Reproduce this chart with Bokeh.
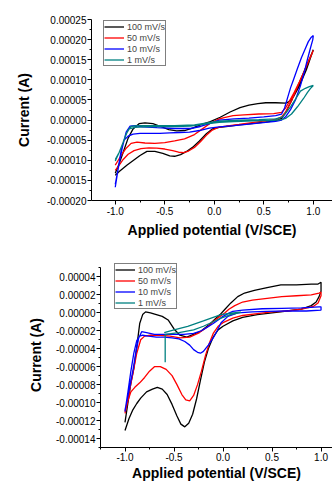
from bokeh.plotting import figure
from bokeh.models import FixedTicker, PrintfTickFormatter, Range1d
from bokeh.embed import file_html
from bokeh.resources import INLINE

rates = ["100 mV/s", "50 mV/s", "10 mV/s", "1 mV/s"]
colors = ["#000000", "#ff0000", "#0000ff", "#008080"]

x_title = "Applied potential (V/SCE)"
y_title = "Current (A)"

# ---------- ticks ----------
x_ticks = [-1.0, -0.5, 0.0, 0.5, 1.0]
x_minor = [-1.25, -0.75, -0.25, 0.25, 0.75]
top_y_ticks = [-0.00020, -0.00015, -0.00010, -0.00005, 0.0, 0.00005, 0.00010, 0.00015, 0.00020, 0.00025]
top_y_minor = [-0.000175, -0.000125, -0.000075, -0.000025, 0.000025, 0.000075, 0.000125, 0.000175, 0.000225]
bot_y_ticks = [-0.00014, -0.00012, -0.00010, -0.00008, -0.00006, -0.00004, -0.00002, 0.0, 0.00002, 0.00004]
bot_y_minor = [-0.00015, -0.00013, -0.00011, -0.00009, -0.00007, -0.00005, -0.00003, -0.00001, 0.00001, 0.00003, 0.00005]

# ---------- top panel data ----------
t100_fwd_v = [-1.00, -0.96, -0.92, -0.88, -0.815, -0.75, -0.68, -0.60, -0.52, -0.45, -0.40, -0.34, -0.28, -0.22, -0.15, -0.08, -0.02, 0.05, 0.12, 0.25, 0.40, 0.55, 0.63, 0.68, 0.72, 0.78, 0.85, 0.92, 0.97, 1.00]
t100_fwd_i = [-0.000137, -0.000128, -0.000120, -0.000112, -0.000100, -0.000088, -0.000078, -0.000078, -0.000083, -0.000089, -0.000090, -0.000086, -0.000078, -0.000068, -0.000052, -0.000034, -0.000022, -0.000018, -0.000016, -0.000012, -0.000008, -0.000004, -0.000001, 0.000004, 0.000018, 0.000048, 0.000088, 0.000128, 0.000157, 0.000175]
t100_rev_v = [1.00, 0.93, 0.86, 0.80, 0.75, 0.72, 0.62, 0.52, 0.44, 0.35, 0.26, 0.16, 0.06, -0.04, -0.14, -0.22, -0.30, -0.38, -0.46, -0.54, -0.62, -0.70, -0.76, -0.82, -0.87, -0.92, -0.96, -1.00]
t100_rev_i = [0.000175, 0.000125, 0.000085, 0.000058, 0.000045, 0.000042, 0.000043, 0.000043, 0.000041, 0.000037, 0.000031, 0.000020, 0.000007, -0.000004, -0.000012, -0.000020, -0.000026, -0.000027, -0.000024, -0.000016, -0.000009, -0.000007, -0.000009, -0.000022, -0.000045, -0.000080, -0.000108, -0.000132]

t50_fwd_v = [-1.00, -0.96, -0.92, -0.87, -0.81, -0.74, -0.66, -0.58, -0.50, -0.42, -0.36, -0.31, -0.26, -0.20, -0.14, -0.08, -0.02, 0.04, 0.12, 0.25, 0.40, 0.55, 0.63, 0.68, 0.72, 0.78, 0.85, 0.92, 0.97, 1.00]
t50_fwd_i = [-0.000125, -0.000112, -0.000098, -0.000085, -0.000076, -0.000071, -0.000069, -0.000070, -0.000072, -0.000076, -0.000080, -0.000081, -0.000077, -0.000068, -0.000054, -0.000038, -0.000025, -0.000018, -0.000015, -0.000011, -0.000006, -0.000001, 0.000002, 0.000008, 0.000020, 0.000048, 0.000088, 0.000128, 0.000157, 0.000173]
t50_rev_v = [1.00, 0.96, 0.91, 0.86, 0.81, 0.76, 0.72, 0.68, 0.60, 0.45, 0.30, 0.19, 0.10, 0.04, -0.04, -0.12, -0.20, -0.30, -0.40, -0.50, -0.60, -0.70, -0.78, -0.84, -0.89, -0.94, -0.97, -1.00]
t50_rev_i = [0.000173, 0.000150, 0.000122, 0.000095, 0.000070, 0.000047, 0.000030, 0.000019, 0.000016, 0.000015, 0.000013, 0.000011, 0.000006, 0.000002, -0.000008, -0.000022, -0.000036, -0.000047, -0.000052, -0.000056, -0.000058, -0.000057, -0.000055, -0.000058, -0.000070, -0.000088, -0.000100, -0.000112]

t10_fwd_v = [-1.00, -0.97, -0.94, -0.91, -0.87, -0.82, -0.75, -0.65, -0.55, -0.45, -0.35, -0.25, -0.15, -0.05, 0.05, 0.20, 0.35, 0.52, 0.62, 0.68, 0.72, 0.77, 0.82, 0.87, 0.91, 0.94, 0.97, 0.995]
t10_fwd_i = [-0.000167, -0.000120, -0.000075, -0.000050, -0.000040, -0.000035, -0.000033, -0.000033, -0.000033, -0.000032, -0.000031, -0.000030, -0.000026, -0.000020, -0.000017, -0.000014, -0.000010, -0.000006, -0.000003, 0.000000, 0.000008, 0.000026, 0.000050, 0.000085, 0.000120, 0.000150, 0.000178, 0.000200]
t10_rev_v = [1.00, 0.98, 0.95, 0.92, 0.88, 0.84, 0.80, 0.77, 0.74, 0.71, 0.68, 0.62, 0.50, 0.35, 0.20, 0.05, -0.04, -0.14, -0.24, -0.40, -0.58, -0.72, -0.80, -0.85, -0.89, -0.93, -0.97, -1.00]
t10_rev_i = [0.000210, 0.000206, 0.000195, 0.000178, 0.000155, 0.000128, 0.000100, 0.000080, 0.000055, 0.000030, 0.000015, 0.000011, 0.000008, 0.000005, 0.000003, 0.000000, -0.000008, -0.000016, -0.000021, -0.000021, -0.000019, -0.000017, -0.000014, -0.000015, -0.000030, -0.000070, -0.000120, -0.000160]

t1_fwd_v = [-1.00, -0.96, -0.92, -0.89, -0.86, -0.80, -0.70, -0.55, -0.40, -0.24, -0.10, 0.05, 0.20, 0.40, 0.60, 0.68, 0.72, 0.78, 0.84, 0.90, 0.94, 0.97, 1.00]
t1_fwd_i = [-0.000102, -0.000080, -0.000055, -0.000035, -0.000022, -0.000018, -0.000017, -0.000016, -0.000016, -0.000015, -0.000010, -0.000006, -0.000004, -0.000002, -0.000001, 0.000001, 0.000004, 0.000015, 0.000033, 0.000053, 0.000068, 0.000078, 0.000086]
t1_rev_v = [1.00, 0.96, 0.92, 0.87, 0.82, 0.77, 0.73, 0.69, 0.62, 0.45, 0.25, 0.05, -0.04, -0.20, -0.40, -0.60, -0.78, -0.84, -0.88, -0.92, -0.96, -1.00]
t1_rev_i = [0.000086, 0.000083, 0.000079, 0.000072, 0.000052, 0.000033, 0.000020, 0.000008, 0.000003, 0.000001, 0.000000, -0.000003, -0.000006, -0.000012, -0.000014, -0.000014, -0.000014, -0.000016, -0.000030, -0.000055, -0.000080, -0.000098]

# ---------- bottom panel data ----------
b100_fwd_v = [-1.00, -0.96, -0.92, -0.88, -0.84, -0.78, -0.72, -0.67, -0.62, -0.57, -0.52, -0.47, -0.43, -0.39, -0.35, -0.31, -0.27, -0.23, -0.19, -0.15, -0.10, -0.05, 0.00, 0.10, 0.20, 0.35, 0.50, 0.65, 0.80, 0.90, 0.95, 0.98, 1.00]
b100_fwd_i = [-0.000131, -0.000118, -0.000108, -0.000101, -0.000095, -0.000088, -0.000085, -0.000083, -0.000085, -0.000091, -0.000102, -0.000115, -0.000124, -0.000127, -0.000123, -0.000113, -0.000096, -0.000075, -0.000055, -0.000040, -0.000027, -0.000019, -0.000015, -0.000009, -0.000005, -0.000002, 0.000000, 0.000002, 0.000004, 0.000008, 0.000012, 0.000018, 0.000024]
b100_rev_v = [1.00, 0.97, 0.90, 0.75, 0.59, 0.45, 0.32, 0.22, 0.15, 0.08, 0.02, -0.03, -0.08, -0.15, -0.22, -0.30, -0.37, -0.44, -0.50, -0.56, -0.62, -0.68, -0.74, -0.79, -0.82, -0.85, -0.88, -0.91, -0.94, -0.97, -1.00]
b100_rev_i = [0.000034, 0.000032, 0.000032, 0.000031, 0.000031, 0.000028, 0.000025, 0.000022, 0.000018, 0.000011, 0.000004, -0.000002, -0.000007, -0.000014, -0.000020, -0.000024, -0.000027, -0.000025, -0.000018, -0.000008, -0.000004, -0.000002, 0.000000, 0.000001, -0.000002, -0.000012, -0.000038, -0.000062, -0.000078, -0.000100, -0.000122]

b50_fwd_v = [-1.00, -0.97, -0.94, -0.90, -0.85, -0.80, -0.75, -0.70, -0.64, -0.58, -0.52, -0.47, -0.42, -0.38, -0.34, -0.30, -0.26, -0.22, -0.18, -0.14, -0.10, -0.05, 0.00, 0.10, 0.20, 0.35, 0.50, 0.66, 0.80, 0.92, 0.97, 1.00]
b50_fwd_i = [-0.000112, -0.000098, -0.000088, -0.000083, -0.000078, -0.000072, -0.000065, -0.000060, -0.000060, -0.000063, -0.000070, -0.000080, -0.000091, -0.000097, -0.000098, -0.000092, -0.000080, -0.000065, -0.000048, -0.000034, -0.000023, -0.000015, -0.000011, -0.000006, -0.000003, -0.000001, 0.000001, 0.000002, 0.000004, 0.000007, 0.000011, 0.000019]
b50_rev_v = [1.00, 0.98, 0.90, 0.75, 0.60, 0.45, 0.30, 0.20, 0.12, 0.06, 0.02, -0.03, -0.08, -0.15, -0.24, -0.34, -0.44, -0.54, -0.64, -0.74, -0.80, -0.84, -0.88, -0.92, -0.96, -1.00]
b50_rev_i = [0.000023, 0.000022, 0.000020, 0.000019, 0.000018, 0.000016, 0.000014, 0.000012, 0.000008, 0.000004, 0.000000, -0.000004, -0.000008, -0.000015, -0.000022, -0.000027, -0.000028, -0.000026, -0.000025, -0.000025, -0.000026, -0.000030, -0.000045, -0.000068, -0.000090, -0.000110]

b10_fwd_v = [-1.00, -0.97, -0.94, -0.91, -0.88, -0.85, -0.82, -0.76, -0.68, -0.60, -0.52, -0.45, -0.39, -0.34, -0.30, -0.26, -0.23, -0.20, -0.15, -0.10, -0.06, -0.02, 0.05, 0.15, 0.30, 0.45, 0.65, 0.85, 1.00]
b10_fwd_i = [-0.000110, -0.000088, -0.000065, -0.000045, -0.000031, -0.000026, -0.000025, -0.000026, -0.000027, -0.000027, -0.000028, -0.000029, -0.000032, -0.000036, -0.000041, -0.000044, -0.000045, -0.000043, -0.000036, -0.000028, -0.000020, -0.000011, -0.000004, 0.000000, 0.000001, 0.0000015, 0.000002, 0.000002, 0.000003]
b10_rev_v = [1.00, 0.98, 0.80, 0.60, 0.40, 0.20, 0.10, 0.05, 0.00, -0.05, -0.10, -0.16, -0.22, -0.30, -0.40, -0.50, -0.60, -0.70, -0.78, -0.83, -0.86, -0.89, -0.92, -0.95, -0.98, -1.00]
b10_rev_i = [0.0000066, 0.0000066, 0.0000055, 0.000005, 0.0000045, 0.000003, 0.0000015, -0.000001, -0.000004, -0.000008, -0.000012, -0.000016, -0.000020, -0.000023, -0.000024, -0.000024, -0.000024, -0.000024, -0.000022, -0.000021, -0.000028, -0.000045, -0.000065, -0.000082, -0.000098, -0.000108]

b1_fwd_v = [-0.59, -0.59, -0.45, -0.30, -0.20, -0.10, -0.02, 0.08, 0.18]
b1_fwd_i = [-0.000055, -0.000024, -0.000022, -0.000019, -0.000015, -0.000010, -0.000006, -0.000002, 0.0000004]
b1_rev_v = [0.18, 0.08, -0.02, -0.10, -0.20, -0.36, -0.50, -0.60]
b1_rev_i = [0.0000008, -0.0000005, -0.000002, -0.000005, -0.000009, -0.000015, -0.000019, -0.000022]

top_series = [
    (t100_fwd_v + t100_rev_v, t100_fwd_i + t100_rev_i),
    (t50_fwd_v + t50_rev_v, t50_fwd_i + t50_rev_i),
    (t10_fwd_v + t10_rev_v, t10_fwd_i + t10_rev_i),
    (t1_fwd_v + t1_rev_v, t1_fwd_i + t1_rev_i),
]
bot_series = [
    (b100_fwd_v + b100_rev_v, b100_fwd_i + b100_rev_i),
    (b50_fwd_v + b50_rev_v, b50_fwd_i + b50_rev_i),
    (b10_fwd_v + b10_rev_v, b10_fwd_i + b10_rev_i),
    (b1_fwd_v + b1_rev_v, b1_fwd_i + b1_rev_i),
]

FONT = "Liberation Sans"


def make_panel(series, xr, yr, ybounds, yticks, yminor, left, top, bottom, height,
               legend_loc, ylabel_standoff, xlab_standoff, xtitle_standoff):
    p = figure(width=332, height=height, x_range=Range1d(*xr), y_range=Range1d(*yr),
               output_backend="svg", toolbar_location=None,
               min_border_left=left, min_border_right=0,
               min_border_top=top, min_border_bottom=bottom)
    p.outline_line_color = None
    p.xgrid.visible = False
    p.ygrid.visible = False
    p.background_fill_color = "white"
    p.border_fill_color = "white"
    for (v, i), c, lab in zip(series, colors, rates):
        p.line(v, i, line_color=c, line_width=1.3, legend_label=lab)

    p.xaxis.ticker = FixedTicker(ticks=x_ticks, minor_ticks=x_minor)
    p.yaxis.ticker = FixedTicker(ticks=yticks, minor_ticks=yminor)
    p.xaxis.formatter = PrintfTickFormatter(format="%.1f")
    p.yaxis.formatter = PrintfTickFormatter(format="%.5f")
    p.yaxis.bounds = ybounds
    for ax in (p.xaxis[0], p.yaxis[0]):
        ax.axis_line_color = "black"
        ax.axis_line_width = 1
        ax.major_tick_line_color = "black"
        ax.minor_tick_line_color = "black"
        ax.major_tick_in = 0
        ax.major_tick_out = 4
        ax.minor_tick_in = 0
        ax.minor_tick_out = 2
        ax.major_label_text_font = FONT
        ax.major_label_text_font_size = "10px"
        ax.major_label_text_color = "black"
        ax.axis_label_text_font = FONT
        ax.axis_label_text_font_size = "14px"
        ax.axis_label_text_font_style = "bold"
        ax.axis_label_text_color = "black"
    p.xaxis.axis_label = x_title
    p.yaxis.axis_label = y_title
    p.xaxis.major_label_standoff = xlab_standoff
    p.xaxis.axis_label_standoff = xtitle_standoff
    p.yaxis.major_label_standoff = 1
    p.yaxis.axis_label_standoff = ylabel_standoff

    lg = p.legend[0]
    lg.location = legend_loc
    lg.border_line_color = "black"
    lg.border_line_width = 1
    lg.background_fill_color = "white"
    lg.background_fill_alpha = 1
    lg.label_text_font = FONT
    lg.label_text_font_size = "9px"
    lg.glyph_width = 20
    lg.glyph_height = 11
    lg.label_height = 11
    lg.label_standoff = 3
    lg.padding = 0
    lg.spacing = 0
    lg.margin = 0
    return p


top = make_panel(top_series, (-1.24, 1.194), (-0.00020, 0.00025), (-0.00020, 0.00025),
                 top_y_ticks, top_y_minor, left=91, top=19, bottom=43, height=243,
                 legend_loc=(12, 134), ylabel_standoff=12, xlab_standoff=2, xtitle_standoff=4)
bot = make_panel(bot_series, (-1.25, 1.117), (-0.00015, 0.000056), (-0.00015, 0.00005),
                 bot_y_ticks, bot_y_minor, left=100, top=19, bottom=39, height=243,
                 legend_loc=(14, 138), ylabel_standoff=9, xlab_standoff=1, xtitle_standoff=1)

open("out.html", "w").write(file_html([top, bot], INLINE))
